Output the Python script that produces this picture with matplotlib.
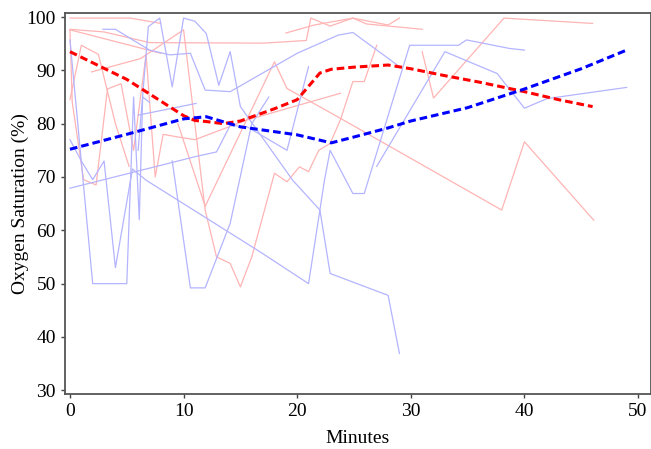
import matplotlib
matplotlib.use("Agg")
import matplotlib.pyplot as plt

# thin subject lines, group 1 (red)
red_x = [
    [0, 5.3, 8],
    [0, 3, 7, 17, 20.8, 21.2, 22.9, 24.9, 28, 29],
    [19, 21.5, 24.9, 26.1, 31],
    [0, 8],
    [1.9, 6.2, 10, 11.9, 12.9, 14.1, 15, 16, 18, 19.1, 20.2, 21, 21.9, 22.9, 23.8, 24.9, 25.9, 27],
    [0, 0.2, 1.2, 2.3, 3.3, 4.5, 5.6, 6.7, 7.5, 8.2, 9.5, 11, 15.6, 23.8],
    [0, 1, 2.5, 4, 5.2],
    [31, 32, 38.2, 46],
    [9.5, 11.9, 18, 19.1, 23.8, 38, 40, 46.1],
]
red_y = [
    [99.8, 99.8, 98.8],
    [97.7, 97.2, 95.2, 95.1, 95.6, 99.8, 98.3, 99.8, 98.5, 99.8],
    [97, 98.5, 99.8, 98.7, 97.7],
    [97.6, 93.2],
    [89.7, 92.2, 97.6, 63.8, 55, 53.8, 49.4, 55, 70.7, 69.1, 71.9, 71, 75, 76.3, 80.7, 87.9, 87.9, 94.7],
    [97.5, 84, 69.5, 68.5, 86.5, 87.5, 75, 93, 70, 78, 77.5, 77, 80.7, 85.7],
    [84.5, 94.7, 93, 80, 72],
    [93.5, 84.8, 99.8, 98.8],
    [80, 64.5, 91.6, 86.6, 81, 63.8, 76.6, 61.9],
]

# thin subject lines, group 2 (blue)
blue_x = [
    [0, 2, 5, 5.6, 6.1, 6.4, 7],
    [0, 1, 2, 3, 4, 5.5, 6.7, 16.7, 21, 22.4, 22.9, 24.9, 25.9, 29.9, 34.2, 34.9, 38.7, 40],
    [2.9, 4, 7, 8.8, 10.6, 11.9, 14.1, 20, 23.6, 24.9, 29],
    [6, 6.9, 7.9, 9, 10, 11, 12, 13.1, 14.1, 15, 19.6, 22, 22.9, 28, 29],
    [0, 11, 12.9, 14.1, 15.6, 19.1, 21],
    [9, 10.6, 11.9, 14.1, 16, 17.5],
    [6, 11.1],
    [27, 33, 37.6, 40, 42, 49],
]
blue_y = [
    [95.7, 50, 50, 85, 62, 85, 84],
    [77, 73, 69.5, 73, 53, 71.5, 69.4, 56, 50, 69.4, 75, 66.9, 66.9, 94.7, 94.7, 95.7, 94.1, 93.8],
    [97.7, 97.7, 93.8, 92.9, 93.2, 86.3, 86, 93.2, 96.6, 97.1, 90.7],
    [75, 98.2, 99.8, 86.9, 99.8, 99.2, 96.9, 87.2, 93.5, 83.2, 69.4, 63.8, 51.9, 47.8, 36.9],
    [67.9, 73.8, 74.7, 79.7, 79.4, 75, 90.7],
    [73, 49.2, 49.2, 61.3, 80, 85],
    [81.6, 83.8],
    [72, 93.5, 89.4, 82.9, 84.7, 86.8],
]

# smoothed group means
red_mean_x = [0, 5, 10, 11, 12, 13.5, 15, 18, 20, 21, 22, 23, 25, 28, 30, 33, 36, 40, 43, 46]
red_mean_y = [93.5, 88.3, 81.5, 80.6, 80.4, 80, 80.5, 82.8, 84.5, 87, 89.5, 90.2, 90.6, 91, 90.3, 89, 87.8, 86, 84.5, 83.2]
blue_mean_x = [0, 5, 10, 12, 15, 20, 23, 25, 28, 30, 35, 40, 45, 49]
blue_mean_y = [75.2, 78, 80.9, 81.3, 79.4, 77.9, 76.4, 77.5, 79.2, 80.5, 83, 86.5, 90.3, 93.8]

plt.rcParams['font.family'] = ['Liberation Serif', 'DejaVu Serif']

fig = plt.figure(figsize=(6.51, 4.49), dpi=100)
ax = fig.add_axes([0.0998, 0.1225, 0.8995, 0.8485])

for xs, ys in zip(red_x, red_y):
    ax.plot(xs, ys, color='#ffb4b4', lw=0.9)
for xs, ys in zip(blue_x, blue_y):
    ax.plot(xs, ys, color='#b4b4ff', lw=0.9)

ax.plot(red_mean_x, red_mean_y, color='#ff0000', lw=2.2, linestyle=(0, (2.5, 1.3)))
ax.plot(blue_mean_x, blue_mean_y, color='#0000ff', lw=2.2, linestyle=(0, (2.5, 1.3)))

ax.set_xlim(-0.44, 51.1)
ax.set_ylim(29.3, 100.75)
ax.set_xticks([0, 10, 20, 30, 40, 50])
ax.set_yticks([30, 40, 50, 60, 70, 80, 90, 100])
ax.tick_params(labelsize=14, length=3, width=1, color='#444444')
ax.set_xlabel('Minutes', fontsize=14, labelpad=7)
ax.set_ylabel('Oxygen Saturation (%)', fontsize=14, labelpad=-2)
for s in ax.spines.values():
    s.set_color('#555555')
    s.set_linewidth(1.3)

fig.savefig('out.png', dpi=100)
